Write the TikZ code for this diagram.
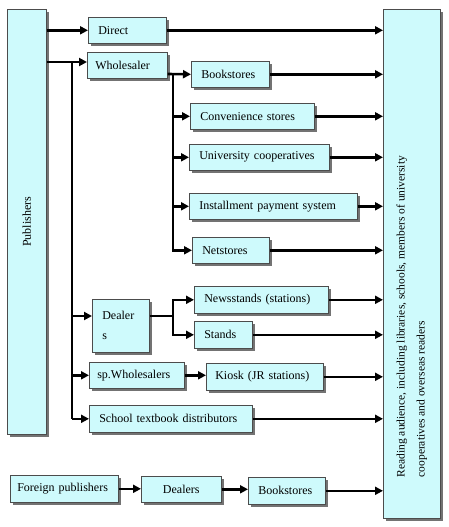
\documentclass[tikz,border=0pt]{standalone}
\usepackage{fontspec}
\setmainfont{Liberation Serif}
\usetikzlibrary{arrows.meta,shadows}
\definecolor{boxcyan}{RGB}{206,250,252}
\tikzset{
  panel/.style={draw=black!70, line width=0.6pt, fill=boxcyan, inner sep=0pt,
    drop shadow={shadow xshift=2.5pt, shadow yshift=-2.5pt, fill=black!55, opacity=1},
    font=\fontsize{12}{14}\selectfont},
  box/.style={panel, anchor=north west, inner xsep=10pt, minimum height=26pt, align=left},
  wire/.style={line width=2.6pt},
  arr/.style={wire, -{Triangle[length=8pt,width=8pt]}},
}
\begin{document}
\begin{tikzpicture}[x=1pt, y=-1pt]
\useasboundingbox (0,0) rectangle (448,527);

% Ends
\node[panel, anchor=north west, minimum width=39pt, minimum height=425pt] (publishers) at (7,9) {\rotatebox{90}{Publishers}};
\node[panel, anchor=north west, minimum width=57pt, minimum height=509pt] (reading) at (383,9)
  {\rotatebox{90}{\parbox{427pt}{\fontsize{11.5}{20}\selectfont\raggedright Reading audience, including libraries, schools, members of university\\ cooperatives and overseas readers}}};

% First level
\node[box, text width=58pt] (direct) at (88,17) {Direct};
\node[box, inner xsep=8pt, text width=64pt] (wholesaler) at (87,52) {Wholesaler};
\node[box, text width=37pt, minimum height=53pt] (dealer) at (92,299) {Dealer\\[6pt]s};
\node[box, inner xsep=8pt, text width=79pt] (spwholesalers) at (89,362) {sp.Wholesalers};
\node[box, text width=143pt, minimum height=27pt] (school) at (89,405) {School textbook distributors};

% Second level
\node[box, text width=58pt] (bookstores) at (191,61) {Bookstores};
\node[box, text width=104pt] (convenience) at (190,103) {Convenience stores};
\node[box, text width=120pt] (university) at (189,144) {University cooperatives};
\node[box, text width=148pt] (installment) at (189,193) {Installment payment system};
\node[box, text width=57pt] (netstores) at (192,237) {Netstores};
\node[box, text width=114pt, minimum height=27pt] (newsstands) at (194,286) {Newsstands (stations)};
\node[box, text width=38pt, minimum height=27pt] (stands) at (194,321) {Stands};
\node[box, inner xsep=9pt, text width=99pt, minimum height=27pt] (kiosk) at (206,363) {Kiosk (JR stations)};

% Foreign row
\node[box, inner xsep=7pt, text width=94pt, minimum height=27pt] (foreign) at (10,475) {Foreign publishers};
\node[box, text width=60pt, align=center] (dealers) at (141,476) {Dealers};
\node[box, text width=57pt, minimum height=27pt] (bookstoresb) at (248,477) {Bookstores};

% Forks
\coordinate (trunk) at (72,62);
\coordinate (wfork) at (173,74);
\coordinate (dfork) at (173,316);

% Publishers
\draw[arr] (publishers.east |- direct.west) -- (direct.west);
\draw[arr] (publishers.east |- trunk) -- (wholesaler.west |- trunk);
\draw[wire] (trunk) -- (trunk |- school.west);
\draw[arr] (trunk |- dfork) -- (dealer.west |- dfork);
\draw[arr] (trunk |- spwholesalers.west) -- (spwholesalers.west);
\draw[arr] (trunk |- school.west) -- (school.west);

% Wholesaler
\draw[arr] (wholesaler.east |- wfork) -- (bookstores.west);
\draw[arr] (wfork) |- (netstores.west);
\draw[arr] (wfork |- convenience.west) -- (convenience.west);
\draw[arr] (wfork |- university.west) -- (university.west);
\draw[arr] (wfork |- installment.west) -- (installment.west);

% Dealer
\draw[wire] (dealer.east |- dfork) -- (dfork);
\draw[arr] (dfork) |- (newsstands.west);
\draw[arr] (dfork) |- (stands.west);
\draw[arr] (spwholesalers.east) -- (kiosk.west |- spwholesalers.east);
\draw[arr] (foreign.east) -- (dealers.west |- foreign.east);
\draw[arr] (dealers.east) -- (bookstoresb.west |- dealers.east);

% Readers
\foreach \n in {direct,bookstores,convenience,university,installment,netstores,newsstands,stands,kiosk,school,bookstoresb}
  \draw[arr] (\n.east) -- (\n.east -| reading.west);
\end{tikzpicture}
\end{document}
